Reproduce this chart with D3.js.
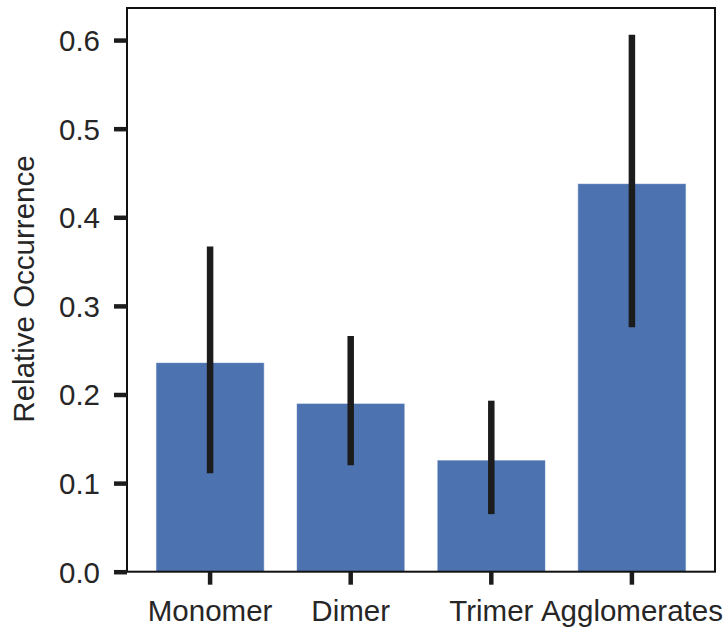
<!DOCTYPE html>
<html><head><meta charset="utf-8">
<script src="https://cdn.jsdelivr.net/npm/d3@7"></script>
<style>body{margin:0;background:#fff}svg{display:block}text{font-family:"Liberation Sans",Arial,sans-serif;fill:#262626}</style>
</head><body><svg id="c" width="726" height="628"></svg>
<script>
const categories = ["Monomer", "Dimer", "Trimer", "Agglomerates"];
const values = [0.236, 0.190, 0.126, 0.438];
const errLow = [0.111, 0.120, 0.065, 0.276];
const errHigh = [0.367, 0.266, 0.193, 0.606];
const yTicks = [0.0, 0.1, 0.2, 0.3, 0.4, 0.5, 0.6];
const yLabel = "Relative Occurrence";

const svg = d3.select("#c");
const L = 127, R = 715, T = 8, B = 571.7;
const x = d3.scaleBand().domain(categories).range([L, R]).paddingInner(0.23).paddingOuter(0.206);
const y = d3.scaleLinear().domain([0, 0.6362]).range([B, T]);

svg.append("g").selectAll("rect").data(categories).join("rect")
  .attr("x", d => x(d)).attr("width", x.bandwidth())
  .attr("y", (d, i) => y(values[i])).attr("height", (d, i) => B - y(values[i]))
  .attr("fill", "#4c72b0").attr("stroke", "#ffffff").attr("stroke-opacity", 0.6).attr("stroke-width", 1);

svg.append("g").selectAll("line").data(categories).join("line")
  .attr("x1", d => x(d) + x.bandwidth() / 2).attr("x2", d => x(d) + x.bandwidth() / 2)
  .attr("y1", (d, i) => y(errLow[i])).attr("y2", (d, i) => y(errHigh[i]))
  .attr("stroke", "#1c1c1c").attr("stroke-width", 6.5);

// frame
svg.append("rect").attr("x", L).attr("y", T).attr("width", R - L).attr("height", B - T)
  .attr("fill", "none").attr("stroke", "#111").attr("stroke-width", 2);

const yAxis = svg.append("g").attr("transform", `translate(${L},0)`)
  .call(d3.axisLeft(y).tickValues(yTicks).tickFormat(d3.format(".1f")).tickSize(13).tickPadding(14));
yAxis.select(".domain").remove();
yAxis.selectAll(".tick line").attr("stroke", "#1c1c1c").attr("stroke-width", 4.5);
yAxis.selectAll(".tick text").attr("font-size", 29.5).attr("dy", "0.35em").style("fill", "#262626")
  .attr("font-family", "Liberation Sans, Arial, sans-serif");

const xAxis = svg.append("g").attr("transform", `translate(0,${B})`)
  .call(d3.axisBottom(x).tickSize(13).tickPadding(15));
xAxis.select(".domain").remove();
xAxis.selectAll(".tick line").attr("stroke", "#1c1c1c").attr("stroke-width", 4.5);
xAxis.selectAll(".tick text").attr("font-size", 29.5).attr("dy", "0.71em").style("fill", "#262626")
  .attr("font-family", "Liberation Sans, Arial, sans-serif");

svg.append("text").attr("transform", `translate(34,289) rotate(-90)`)
  .attr("text-anchor", "middle").attr("font-size", 29.5).text(yLabel);
</script></body></html>
